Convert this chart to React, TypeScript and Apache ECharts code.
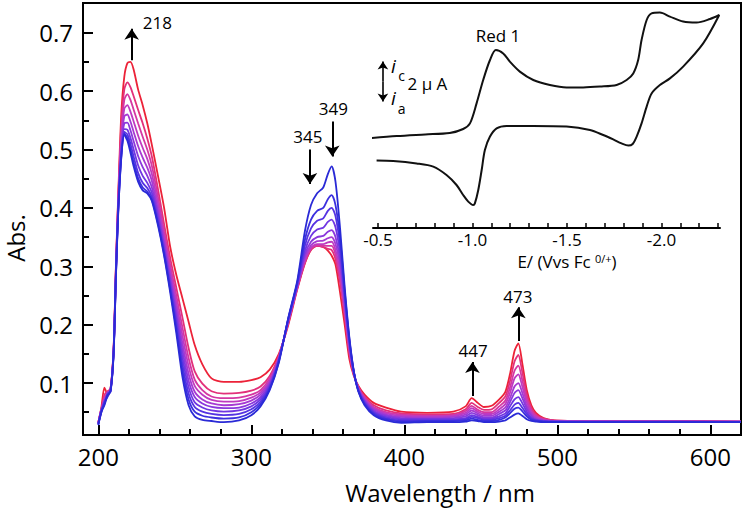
import React, { useEffect, useRef } from 'react';
import * as echarts from 'echarts';

const FONT = '"Open Sans", "Noto Sans", sans-serif';

// Wavelength grid (nm)
const wavelengths = [
  200, 202, 204, 206, 208, 210, 211.5, 213, 215, 217,
  219, 221, 223, 226, 229, 232, 235, 239, 243, 247,
  251, 255, 259, 263, 268, 274, 282, 292, 300, 306,
  312, 318, 324, 330, 335, 339, 343, 347, 350, 352.5,
  355, 358, 361, 364, 367, 370, 374, 380, 388, 398,
  415, 432, 440, 444, 448, 452, 457, 462, 466, 469,
  472, 474.5, 477, 480, 483, 486, 491, 498, 520, 580,
  620,
];

// Absorbance spectra, from the first (blue) to the last (red) of the titration
const abs0 = [
  0.028, 0.050, 0.062, 0.078, 0.086, 0.150, 0.280, 0.390, 0.485, 0.525,
  0.515, 0.495, 0.472, 0.445, 0.430, 0.425, 0.412, 0.370, 0.318, 0.255,
  0.185, 0.110, 0.062, 0.043, 0.037, 0.035, 0.033, 0.036, 0.045, 0.060,
  0.088, 0.135, 0.210, 0.275, 0.360, 0.405, 0.425, 0.435, 0.458, 0.471,
  0.445, 0.365, 0.265, 0.180, 0.120, 0.085, 0.062, 0.045, 0.036, 0.032,
  0.033, 0.033, 0.034, 0.036, 0.035, 0.033, 0.033, 0.034, 0.036, 0.041,
  0.046, 0.048, 0.044, 0.038, 0.035, 0.034, 0.033, 0.033, 0.033, 0.033,
  0.033,
];
const abs1 = [
  0.029, 0.052, 0.065, 0.080, 0.085, 0.150, 0.282, 0.392, 0.487, 0.527,
  0.520, 0.501, 0.479, 0.451, 0.435, 0.428, 0.414, 0.373, 0.321, 0.260,
  0.193, 0.121, 0.072, 0.051, 0.044, 0.041, 0.039, 0.041, 0.050, 0.064,
  0.090, 0.137, 0.209, 0.272, 0.345, 0.380, 0.395, 0.400, 0.415, 0.422,
  0.405, 0.348, 0.258, 0.177, 0.119, 0.086, 0.064, 0.047, 0.038, 0.034,
  0.035, 0.035, 0.036, 0.039, 0.037, 0.035, 0.035, 0.037, 0.041, 0.048,
  0.056, 0.058, 0.052, 0.043, 0.037, 0.035, 0.034, 0.033, 0.033, 0.033,
  0.033,
];
const abs2 = [
  0.030, 0.050, 0.068, 0.076, 0.088, 0.152, 0.284, 0.395, 0.490, 0.530,
  0.526, 0.510, 0.489, 0.460, 0.443, 0.434, 0.419, 0.377, 0.325, 0.265,
  0.201, 0.132, 0.082, 0.059, 0.051, 0.047, 0.045, 0.047, 0.055, 0.068,
  0.093, 0.139, 0.208, 0.270, 0.335, 0.365, 0.378, 0.382, 0.395, 0.400,
  0.386, 0.335, 0.252, 0.174, 0.119, 0.087, 0.066, 0.049, 0.040, 0.036,
  0.036, 0.036, 0.038, 0.042, 0.040, 0.037, 0.037, 0.040, 0.044, 0.053,
  0.063, 0.066, 0.058, 0.047, 0.039, 0.036, 0.034, 0.034, 0.033, 0.033,
  0.033,
];
const abs3 = [
  0.030, 0.054, 0.064, 0.082, 0.086, 0.152, 0.286, 0.398, 0.495, 0.535,
  0.534, 0.520, 0.501, 0.473, 0.455, 0.443, 0.426, 0.383, 0.330, 0.271,
  0.210, 0.144, 0.093, 0.067, 0.058, 0.053, 0.051, 0.053, 0.060, 0.072,
  0.095, 0.140, 0.207, 0.268, 0.326, 0.352, 0.363, 0.366, 0.376, 0.380,
  0.367, 0.322, 0.246, 0.171, 0.118, 0.088, 0.068, 0.051, 0.042, 0.038,
  0.038, 0.038, 0.040, 0.045, 0.042, 0.039, 0.039, 0.043, 0.048, 0.060,
  0.072, 0.076, 0.066, 0.051, 0.041, 0.037, 0.035, 0.034, 0.034, 0.034,
  0.033,
];
const abs4 = [
  0.031, 0.052, 0.070, 0.079, 0.089, 0.154, 0.288, 0.401, 0.502, 0.545,
  0.546, 0.533, 0.515, 0.489, 0.470, 0.455, 0.435, 0.390, 0.336, 0.278,
  0.219, 0.156, 0.104, 0.076, 0.065, 0.059, 0.057, 0.058, 0.065, 0.076,
  0.098, 0.141, 0.206, 0.266, 0.320, 0.342, 0.350, 0.352, 0.359, 0.362,
  0.350, 0.310, 0.240, 0.168, 0.118, 0.089, 0.070, 0.053, 0.044, 0.040,
  0.039, 0.040, 0.043, 0.049, 0.045, 0.041, 0.041, 0.047, 0.053, 0.067,
  0.083, 0.088, 0.075, 0.056, 0.044, 0.038, 0.035, 0.034, 0.034, 0.034,
  0.034,
];
const abs5 = [
  0.031, 0.055, 0.066, 0.084, 0.087, 0.154, 0.290, 0.404, 0.510, 0.557,
  0.560, 0.548, 0.531, 0.506, 0.486, 0.469, 0.446, 0.398, 0.343, 0.285,
  0.229, 0.168, 0.116, 0.085, 0.072, 0.065, 0.062, 0.064, 0.070, 0.080,
  0.101, 0.142, 0.205, 0.265, 0.315, 0.336, 0.343, 0.344, 0.348, 0.350,
  0.338, 0.300, 0.234, 0.164, 0.117, 0.090, 0.071, 0.055, 0.046, 0.042,
  0.041, 0.042, 0.046, 0.053, 0.048, 0.044, 0.044, 0.051, 0.058, 0.074,
  0.094, 0.100, 0.084, 0.061, 0.047, 0.040, 0.036, 0.035, 0.034, 0.034,
  0.034,
];
const abs6 = [
  0.032, 0.053, 0.072, 0.080, 0.090, 0.156, 0.292, 0.407, 0.518, 0.570,
  0.576, 0.565, 0.549, 0.524, 0.503, 0.484, 0.458, 0.408, 0.351, 0.293,
  0.239, 0.181, 0.129, 0.095, 0.080, 0.071, 0.068, 0.069, 0.075, 0.084,
  0.104, 0.143, 0.204, 0.264, 0.311, 0.332, 0.338, 0.338, 0.341, 0.342,
  0.328, 0.290, 0.228, 0.160, 0.116, 0.091, 0.073, 0.057, 0.048, 0.044,
  0.043, 0.044, 0.049, 0.057, 0.051, 0.047, 0.047, 0.055, 0.064, 0.083,
  0.108, 0.115, 0.095, 0.067, 0.050, 0.042, 0.037, 0.035, 0.034, 0.034,
  0.034,
];
const abs7 = [
  0.032, 0.056, 0.075, 0.083, 0.088, 0.156, 0.294, 0.411, 0.528, 0.585,
  0.595, 0.585, 0.569, 0.545, 0.522, 0.500, 0.472, 0.419, 0.360, 0.302,
  0.250, 0.195, 0.143, 0.106, 0.088, 0.077, 0.074, 0.075, 0.080, 0.088,
  0.108, 0.145, 0.203, 0.263, 0.308, 0.330, 0.336, 0.335, 0.335, 0.335,
  0.320, 0.281, 0.222, 0.156, 0.115, 0.092, 0.075, 0.059, 0.050, 0.046,
  0.044, 0.045, 0.052, 0.061, 0.054, 0.050, 0.050, 0.060, 0.070, 0.092,
  0.121, 0.130, 0.106, 0.073, 0.053, 0.044, 0.038, 0.035, 0.035, 0.034,
  0.034,
];
const abs8 = [
  0.033, 0.055, 0.080, 0.086, 0.090, 0.158, 0.296, 0.415, 0.542, 0.603,
  0.615, 0.607, 0.592, 0.568, 0.545, 0.519, 0.488, 0.432, 0.372, 0.314,
  0.263, 0.212, 0.160, 0.120, 0.099, 0.086, 0.082, 0.083, 0.087, 0.094,
  0.112, 0.147, 0.201, 0.262, 0.306, 0.329, 0.335, 0.333, 0.330, 0.328,
  0.312, 0.272, 0.215, 0.151, 0.114, 0.093, 0.077, 0.062, 0.053, 0.048,
  0.046, 0.047, 0.055, 0.066, 0.059, 0.054, 0.055, 0.066, 0.077, 0.103,
  0.137, 0.148, 0.120, 0.080, 0.057, 0.046, 0.039, 0.036, 0.035, 0.035,
  0.034,
];
const abs9 = [
  0.032, 0.058, 0.092, 0.082, 0.090, 0.160, 0.300, 0.420, 0.560, 0.625,
  0.648, 0.650, 0.638, 0.603, 0.576, 0.545, 0.508, 0.455, 0.400, 0.333,
  0.285, 0.245, 0.205, 0.165, 0.132, 0.108, 0.102, 0.102, 0.105, 0.110,
  0.123, 0.150, 0.198, 0.260, 0.305, 0.328, 0.335, 0.333, 0.327, 0.318,
  0.303, 0.255, 0.200, 0.142, 0.112, 0.095, 0.080, 0.066, 0.058, 0.051,
  0.049, 0.051, 0.060, 0.074, 0.066, 0.059, 0.061, 0.072, 0.085, 0.115,
  0.155, 0.168, 0.135, 0.088, 0.062, 0.049, 0.040, 0.036, 0.035, 0.035,
  0.034,
];
const spectra = [abs0, abs1, abs2, abs3, abs4, abs5, abs6, abs7, abs8, abs9];
const spectraColors = [
  '#2a2ad6', '#3b2fde', '#5533e2', '#7036e2', '#8b38dc',
  '#a63ad2', '#bf3ac0', '#d437a2', '#e2307a', '#ec2238',
];

// Main axes ticks
const xMajorTicks = [200, 300, 400, 500, 600];
const xMinorTicks = [220, 240, 260, 280, 320, 340, 360, 380, 420, 440, 460, 480, 520, 540, 560, 580];
const yMajorTicks = [0.1, 0.2, 0.3, 0.4, 0.5, 0.6, 0.7];
const yMinorTicks = [0.05, 0.15, 0.25, 0.35, 0.45, 0.55, 0.65];

// Peak annotations (label, wavelength, arrow from, arrow to, label y)
const peakNames = ['218', '345', '349', '447', '473'];
const peakArrowX = [221.8, 338.3, 352.9, 444.5, 474.5];
const peakArrowFrom = [0.653, 0.500, 0.548, 0.078, 0.172];
const peakArrowTo = [0.707, 0.441, 0.488, 0.136, 0.230];
const peakLabelX = [238.6, 337.0, 353.6, 444.9, 474.2];
const peakLabelY = [0.717, 0.5225, 0.570, 0.155, 0.249];

// Inset cyclic voltammogram: potential (V vs Fc0/+), current (µA)
const cvForward = [
  [-0.449, -0.42], [-0.60, -0.30], [-0.75, -0.22], [-0.88, -0.15], [-0.951, 0.05],
  [-0.987, 0.33], [-1.022, 1.33], [-1.057, 2.5], [-1.093, 3.5], [-1.124, 4.0],
  [-1.163, 3.83], [-1.198, 3.42], [-1.251, 2.92], [-1.322, 2.5], [-1.410, 2.25],
  [-1.498, 2.13], [-1.586, 2.13], [-1.675, 2.17], [-1.763, 2.25], [-1.816, 2.5],
  [-1.851, 2.83], [-1.877, 3.5], [-1.895, 4.5], [-1.922, 5.5], [-1.948, 5.83],
  [-1.992, 5.87], [-2.045, 5.67], [-2.115, 5.42], [-2.186, 5.37], [-2.257, 5.55],
  [-2.306, 5.75],
];
const cvReverse = [
  [-2.306, 5.75], [-2.221, 4.33], [-2.115, 3.17], [-2.045, 2.58], [-1.992, 2.25],
  [-1.948, 1.83], [-1.922, 1.17], [-1.895, 0.33], [-1.869, -0.33], [-1.848, -0.70],
  [-1.825, -0.78], [-1.789, -0.67], [-1.745, -0.47], [-1.692, -0.25], [-1.622, 0.0],
  [-1.498, 0.17], [-1.322, 0.2], [-1.181, 0.2], [-1.128, 0.08], [-1.093, -0.33],
  [-1.066, -1.0], [-1.049, -2.0], [-1.031, -3.0], [-1.013, -3.67], [-1.004, -3.75],
  [-0.978, -3.58], [-0.951, -3.25], [-0.916, -2.75], [-0.863, -2.25], [-0.793, -1.83],
  [-0.705, -1.67], [-0.581, -1.55], [-0.493, -1.53],
];
const cvTicks = [-0.5, -0.6, -0.7, -0.8, -0.9, -1.0, -1.1, -1.2, -1.3, -1.4, -1.5, -1.6, -1.7, -1.8, -1.9, -2.0, -2.1, -2.2, -2.3];
const cvLabels = [-0.5, -1.0, -1.5, -2.0];

// Inset annotation positions (data coords of the inset)
const scaleBarE = -0.5265;
const scaleBarMid = 2.42;
const scaleBarTop = 3.42;
const scaleBarBottom = 1.42;
const scanArrow = [[-0.449, -0.05], [-0.572, 0.08]];

export default function App() {
  const ref = useRef<HTMLDivElement>(null);

  useEffect(() => {
    if (!ref.current) return;
    const chart = echarts.init(ref.current, undefined, { renderer: 'svg' });

    const black = '#000000';

    const spectraSeries = spectra
      .map((arr, k) => ({
        type: 'line',
        xAxisIndex: 0,
        yAxisIndex: 0,
        data: wavelengths.map((w, i) => [w, arr[i]]),
        showSymbol: false,
        smooth: 0.25,
        lineStyle: { color: spectraColors[k], width: 1.8 },
        itemStyle: { color: spectraColors[k] },
        silent: true,
        z: 2,
      }))
      .reverse();

    const textLabel = {
      show: true, position: 'inside', formatter: '{b}',
      color: black, fontFamily: FONT, opacity: 1,
    };

    const option: any = {
      animation: false,
      backgroundColor: '#ffffff',
      textStyle: { fontFamily: FONT },
      grid: [
        {
          left: 83, right: 6, top: 3, bottom: 74,
          show: true, borderColor: black, borderWidth: 2,
          backgroundColor: 'transparent',
          outerBoundsMode: 'none',
        },
        {
          left: 373, right: 27, top: 10, bottom: 281,
          outerBoundsMode: 'none',
        },
      ],
      xAxis: [
        {
          gridIndex: 0, type: 'value', min: 190, max: 620, position: 'bottom',
          axisLine: { show: true, onZero: false, lineStyle: { color: black, width: 2 } },
          axisTick: { show: true, inside: true, length: 10, lineStyle: { color: black, width: 2 }, customValues: xMajorTicks },
          axisLabel: { show: true, customValues: xMajorTicks, fontSize: 24, color: black, margin: 9, fontFamily: FONT },
          splitLine: { show: false },
        },
        {
          gridIndex: 0, type: 'value', min: 190, max: 620, position: 'bottom',
          axisLine: { show: false, onZero: false },
          axisTick: { show: true, inside: true, length: 6, lineStyle: { color: black, width: 2 }, customValues: xMinorTicks },
          axisLabel: { show: false },
          splitLine: { show: false },
        },
        {
          gridIndex: 1, type: 'value', min: -2.31, max: -0.474, inverse: true, position: 'bottom',
          axisLine: { show: true, onZero: false, lineStyle: { color: black, width: 2 } },
          axisTick: { show: true, inside: true, length: 5, lineStyle: { color: black, width: 1.5 }, customValues: cvTicks },
          axisLabel: {
            show: true, customValues: cvLabels, fontSize: 17, color: black, margin: 3, fontFamily: FONT,
            lineHeight: 17,
            formatter: (v: number) => v.toFixed(1),
          },
          splitLine: { show: false },
        },
      ],
      yAxis: [
        {
          gridIndex: 0, type: 'value', min: 0.011, max: 0.751, position: 'left',
          axisLine: { show: true, onZero: false, lineStyle: { color: black, width: 2 } },
          axisTick: { show: true, inside: true, length: 10, lineStyle: { color: black, width: 2 }, customValues: yMajorTicks },
          axisLabel: {
            show: true, customValues: yMajorTicks, fontSize: 24, color: black, margin: 10, fontFamily: FONT,
            formatter: (v: number) => v.toFixed(1),
          },
          splitLine: { show: false },
        },
        {
          gridIndex: 0, type: 'value', min: 0.011, max: 0.751, position: 'left',
          axisLine: { show: false, onZero: false },
          axisTick: { show: true, inside: true, length: 6, lineStyle: { color: black, width: 2 }, customValues: yMinorTicks },
          axisLabel: { show: false },
          splitLine: { show: false },
        },
        {
          gridIndex: 1, type: 'value', min: -4.9, max: 6.0, show: false,
          axisLine: { onZero: false },
          splitLine: { show: false },
        },
      ],
      series: [
        ...spectraSeries,
        {
          type: 'line',
          xAxisIndex: 0,
          yAxisIndex: 0,
          data: [],
          silent: true,
          markLine: {
            silent: true,
            symbol: ['none', 'arrow'],
            symbolSize: 11,
            label: { show: false },
            lineStyle: { color: black, width: 2, type: 'solid', opacity: 1 },
            emphasis: { disabled: true },
            data: peakNames.map((_, i) => [
              { coord: [peakArrowX[i], peakArrowFrom[i]] },
              { coord: [peakArrowX[i], peakArrowTo[i]] },
            ]),
          },
          z: 5,
        },
        {
          type: 'scatter',
          xAxisIndex: 0,
          yAxisIndex: 0,
          symbolSize: 1,
          itemStyle: { color: 'rgba(0,0,0,0)', opacity: 1 },
          silent: true,
          data: peakNames.map((n, i) => ({ name: n, value: [peakLabelX[i], peakLabelY[i]] })),
          label: { ...textLabel, fontSize: 17 },
          z: 6,
        },
        {
          type: 'line',
          xAxisIndex: 2,
          yAxisIndex: 2,
          data: [...cvForward, ...cvReverse],
          showSymbol: false,
          smooth: 0.3,
          clip: false,
          lineStyle: { color: '#111111', width: 2 },
          itemStyle: { color: '#111111' },
          silent: true,
          z: 4,
        },
        {
          type: 'line',
          xAxisIndex: 2,
          yAxisIndex: 2,
          data: [],
          silent: true,
          markLine: {
            silent: true,
            symbol: ['none', 'arrow'],
            symbolSize: 8,
            label: { show: false },
            lineStyle: { color: black, width: 1.6, type: 'solid', opacity: 1 },
            emphasis: { disabled: true },
            data: [
              [{ coord: [scaleBarE, scaleBarMid] }, { coord: [scaleBarE, scaleBarTop] }],
              [{ coord: [scaleBarE, scaleBarMid] }, { coord: [scaleBarE, scaleBarBottom] }],
              [{ coord: scanArrow[0] }, { coord: scanArrow[1] }],
            ],
          },
          z: 5,
        },
        {
          type: 'scatter',
          xAxisIndex: 2,
          yAxisIndex: 2,
          symbolSize: 1,
          itemStyle: { color: 'rgba(0,0,0,0)', opacity: 1 },
          silent: true,
          clip: false,
          data: [
            { name: 'Red 1', value: [-1.135, 4.75], label: { fontSize: 17 } },
            { name: 'i', value: [-0.582, 3.2], label: { fontSize: 19, fontStyle: 'italic' } },
            { name: 'c', value: [-0.625, 2.75], label: { fontSize: 14 } },
            { name: '2 μ A', value: [-0.762, 2.35], label: { fontSize: 17 } },
            { name: 'i', value: [-0.582, 1.62], label: { fontSize: 19, fontStyle: 'italic' } },
            { name: 'a', value: [-0.625, 1.1], label: { fontSize: 14 } },
          ],
          label: textLabel,
          z: 6,
        },
      ],
      graphic: [
        {
          type: 'text',
          x: 15, y: 238,
          rotation: Math.PI / 2,
          style: {
            text: 'Abs.', fontSize: 24, fill: black, fontFamily: FONT,
            align: 'center', verticalAlign: 'middle',
          },
        },
        {
          type: 'text',
          x: 440, y: 492,
          style: {
            text: 'Wavelength / nm', fontSize: 24, fill: black, fontFamily: FONT,
            align: 'center', verticalAlign: 'middle',
          },
        },
        {
          type: 'text',
          x: 567, y: 261,
          style: {
            text: '{a|E/ (Vvs Fc }{b|0/+}{a|)}',
            rich: {
              a: { fontSize: 17, fill: black, fontFamily: FONT, lineHeight: 17 },
              b: { fontSize: 11, fill: black, fontFamily: FONT, verticalAlign: 'top', lineHeight: 11 },
            },
            align: 'center', verticalAlign: 'middle',
          },
        },
      ],
    };

    chart.setOption(option);
    return () => chart.dispose();
  }, []);

  return (
    <div
      ref={ref}
      style={{ position: 'fixed', left: 0, top: 0, width: '747px', height: '509px', background: '#fff' }}
    />
  );
}
